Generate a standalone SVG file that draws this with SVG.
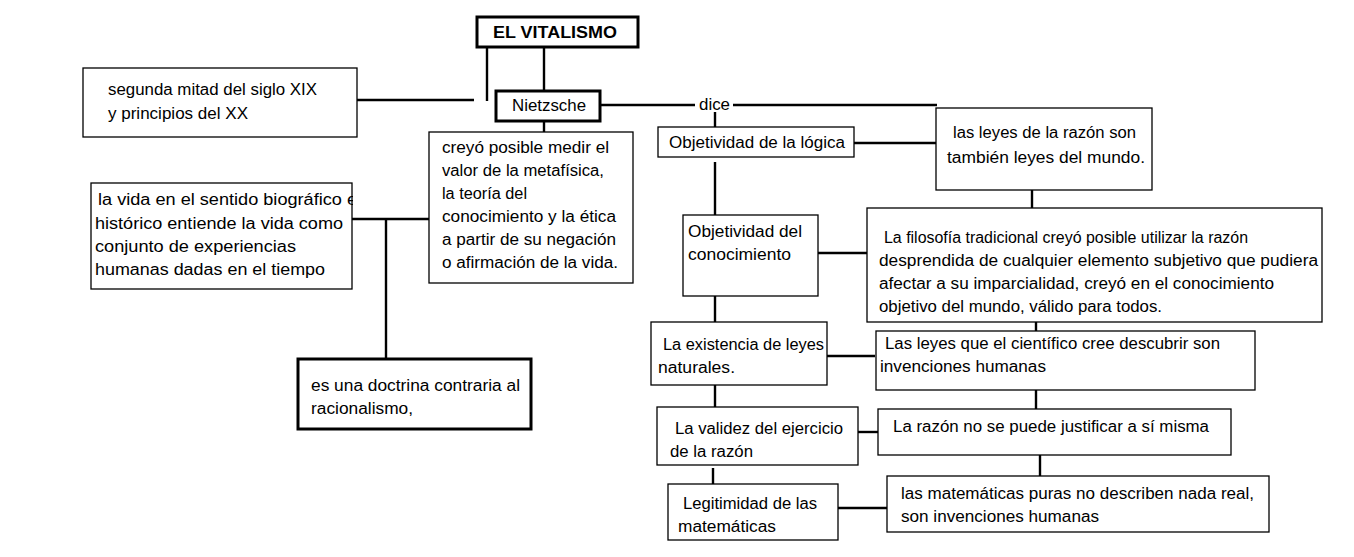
<svg xmlns="http://www.w3.org/2000/svg" width="1354" height="557" viewBox="0 0 1354 557">
<style>
.b{fill:#fff;stroke:#000;stroke-width:1.3}
.bt{fill:#fff;stroke:#000;stroke-width:3}
.t{font-family:"Liberation Sans",Arial,sans-serif;font-size:16px;fill:#000}
.tb{font-family:"Liberation Sans",Arial,sans-serif;font-size:17px;font-weight:bold;fill:#000}
.c line{stroke:#000;stroke-width:2.4}
</style>
<defs>
<clipPath id="clipVida"><rect x="91" y="183" width="262" height="107"/></clipPath>
</defs>
<g class="c" id="connectors">
<line x1="487" y1="47" x2="487" y2="101"/>
<line x1="544" y1="47" x2="544" y2="90"/>
<line x1="357" y1="100" x2="474" y2="100"/>
<line x1="600" y1="105" x2="695" y2="105"/>
<line x1="733" y1="105" x2="937" y2="105"/>
<line x1="544" y1="121" x2="544" y2="132"/>
<line x1="715" y1="112" x2="715" y2="127"/>
<line x1="854" y1="143" x2="936" y2="143"/>
<line x1="1032" y1="190" x2="1032" y2="208"/>
<line x1="715" y1="162" x2="715" y2="216"/>
<line x1="818" y1="253" x2="874" y2="253"/>
<line x1="352" y1="219" x2="429" y2="219"/>
<line x1="386" y1="219" x2="386" y2="358"/>
<line x1="715" y1="285" x2="715" y2="330"/>
<line x1="827" y1="356" x2="875" y2="356"/>
<line x1="1036" y1="322" x2="1036" y2="336"/>
<line x1="715" y1="385" x2="715" y2="407"/>
<line x1="858" y1="432" x2="890" y2="432"/>
<line x1="1036" y1="390" x2="1036" y2="409"/>
<line x1="1040" y1="455" x2="1040" y2="478"/>
<line x1="713" y1="468" x2="713" y2="484"/>
<line x1="838" y1="508" x2="888" y2="508"/>
</g>
<g id="vitalismo"><rect class="bt" x="477" y="17" width="161" height="30"/><text class="tb" x="493" y="38" textLength="124" lengthAdjust="spacingAndGlyphs">EL VITALISMO</text></g>
<g id="segunda"><rect class="b" x="83" y="68" width="274" height="69"/><text class="t" x="108" y="95" textLength="209" lengthAdjust="spacingAndGlyphs">segunda mitad del siglo XIX</text><text class="t" x="108" y="119" textLength="140" lengthAdjust="spacingAndGlyphs">y principios del XX</text></g>
<g id="nietzsche"><rect class="bt" x="496" y="91" width="104" height="30"/><text class="t" x="512" y="111" textLength="74" lengthAdjust="spacingAndGlyphs">Nietzsche</text></g>
<g id="dice"><text class="t" x="699" y="110" textLength="31" lengthAdjust="spacingAndGlyphs">dice</text></g>
<g id="creyo"><rect class="b" x="429" y="132" width="204" height="151"/>
<text class="t" x="442" y="153" textLength="167" lengthAdjust="spacingAndGlyphs">creyó posible medir el</text>
<text class="t" x="442" y="176" textLength="162" lengthAdjust="spacingAndGlyphs">valor de la metafísica,</text>
<text class="t" x="442" y="199" textLength="85" lengthAdjust="spacingAndGlyphs">la teoría del</text>
<text class="t" x="442" y="222" textLength="174" lengthAdjust="spacingAndGlyphs">conocimiento y la ética</text>
<text class="t" x="442" y="245" textLength="174" lengthAdjust="spacingAndGlyphs">a partir de su negación</text>
<text class="t" x="442" y="268" textLength="176" lengthAdjust="spacingAndGlyphs">o afirmación de la vida.</text></g>
<g id="vida"><rect class="b" x="91" y="183" width="261" height="106"/>
<text class="t" x="98" y="205" textLength="259" lengthAdjust="spacingAndGlyphs" clip-path="url(#clipVida)">la vida en el sentido biográfico e</text>
<text class="t" x="95" y="229" textLength="248" lengthAdjust="spacingAndGlyphs">histórico entiende la vida como</text>
<text class="t" x="95" y="252" textLength="201" lengthAdjust="spacingAndGlyphs">conjunto de experiencias</text>
<text class="t" x="95" y="275" textLength="230" lengthAdjust="spacingAndGlyphs">humanas dadas en el tiempo</text></g>
<g id="doctrina"><rect class="bt" x="298" y="359" width="233" height="70"/>
<text class="t" x="311" y="391" textLength="209" lengthAdjust="spacingAndGlyphs">es una doctrina contraria al</text>
<text class="t" x="311" y="414" textLength="102" lengthAdjust="spacingAndGlyphs">racionalismo,</text></g>
<g id="logica"><rect class="b" x="658" y="127" width="196" height="30"/>
<text class="t" x="669" y="148" textLength="176" lengthAdjust="spacingAndGlyphs">Objetividad de la lógica</text></g>
<g id="leyesrazon"><rect class="b" x="936" y="108" width="216" height="82"/>
<text class="t" x="953" y="138" textLength="183" lengthAdjust="spacingAndGlyphs">las leyes de la razón son</text>
<text class="t" x="947" y="163" textLength="198" lengthAdjust="spacingAndGlyphs">también leyes del mundo.</text></g>
<g id="conocimiento"><rect class="b" x="683" y="215" width="135" height="81"/>
<text class="t" x="688" y="237" textLength="114" lengthAdjust="spacingAndGlyphs">Objetividad del</text>
<text class="t" x="688" y="260" textLength="103" lengthAdjust="spacingAndGlyphs">conocimiento</text></g>
<g id="filosofia"><rect class="b" x="867" y="208" width="455" height="114"/>
<text class="t" x="884" y="243" textLength="364" lengthAdjust="spacingAndGlyphs">La filosofía tradicional creyó posible utilizar la razón</text>
<text class="t" x="879" y="266" textLength="439" lengthAdjust="spacingAndGlyphs">desprendida de cualquier elemento subjetivo que pudiera</text>
<text class="t" x="879" y="289" textLength="395" lengthAdjust="spacingAndGlyphs">afectar a su imparcialidad, creyó en el conocimiento</text>
<text class="t" x="879" y="312" textLength="283" lengthAdjust="spacingAndGlyphs">objetivo del mundo, válido para todos.</text></g>
<g id="existencia"><rect class="b" x="651" y="322" width="176" height="63"/>
<text class="t" x="663" y="350" textLength="161" lengthAdjust="spacingAndGlyphs">La existencia de leyes</text>
<text class="t" x="658" y="373" textLength="77" lengthAdjust="spacingAndGlyphs">naturales.</text></g>
<g id="cientifico"><rect class="b" x="876" y="331" width="379" height="59"/>
<text class="t" x="885" y="349" textLength="335" lengthAdjust="spacingAndGlyphs">Las leyes que el científico cree descubrir son</text>
<text class="t" x="880" y="372" textLength="166" lengthAdjust="spacingAndGlyphs">invenciones humanas</text></g>
<g id="validez"><rect class="b" x="657" y="407" width="201" height="58"/>
<text class="t" x="675" y="434" textLength="168" lengthAdjust="spacingAndGlyphs">La validez del ejercicio</text>
<text class="t" x="670" y="457" textLength="83" lengthAdjust="spacingAndGlyphs">de la razón</text></g>
<g id="justificar"><rect class="b" x="878" y="409" width="353" height="46"/>
<text class="t" x="893" y="432" textLength="316" lengthAdjust="spacingAndGlyphs">La razón no se puede justificar a sí misma</text></g>
<g id="legitimidad"><rect class="b" x="668" y="484" width="170" height="56"/>
<text class="t" x="683" y="509" textLength="134" lengthAdjust="spacingAndGlyphs">Legitimidad de las</text>
<text class="t" x="678" y="532" textLength="98" lengthAdjust="spacingAndGlyphs">matemáticas</text></g>
<g id="matematicas"><rect class="b" x="887" y="476" width="382" height="56"/>
<text class="t" x="901" y="499" textLength="353" lengthAdjust="spacingAndGlyphs">las matemáticas puras no describen nada real,</text>
<text class="t" x="901" y="522" textLength="198" lengthAdjust="spacingAndGlyphs">son invenciones humanas</text></g>
</svg>
